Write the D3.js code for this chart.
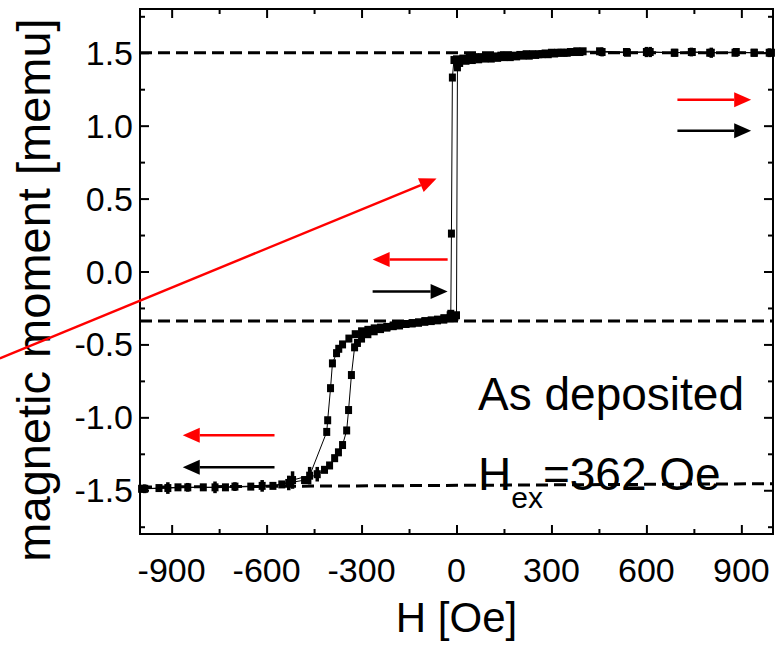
<!DOCTYPE html>
<html>
<head>
<meta charset="utf-8">
<script src="https://cdn.jsdelivr.net/npm/d3@7"></script>
<style>
  body { margin: 0; background: #fff; }
  text { font-family: "Liberation Sans", Arial, sans-serif; fill: #000; }
</style>
</head>
<body>
<div id="grafico"></div>
<script>
// descending branch (H from +1000 to -1000)
const descH = [988, 941, 884, 805, 742, 688, 612, 537, 452,
  400, 380, 360, 340, 320, 300, 280, 260, 240, 220, 200, 180, 160, 140, 120, 100, 80, 60, 40, 20, 0,
  -8, -13, -16, -18,
  -20, -40, -60, -80, -100, -120, -140, -160, -180, -200, -220, -240, -260, -280, -300, -320, -340, -360,
  -372, -379, -392, -398, -407, -410,
  -464, -518, -552, -614, -700, -763, -849, -912, -985];
const descM = [1.50, 1.50, 1.505, 1.50, 1.505, 1.50, 1.505, 1.505, 1.51,
  1.51, 1.51, 1.505, 1.50, 1.50, 1.50, 1.495, 1.49, 1.49, 1.49, 1.485, 1.48, 1.48, 1.48, 1.475, 1.475, 1.47, 1.47, 1.465, 1.46, 1.455,
  1.45, 1.33, 0.26, -0.29,
  -0.30, -0.32, -0.33, -0.335, -0.34, -0.35, -0.355, -0.36, -0.365, -0.37, -0.38, -0.385, -0.39, -0.40, -0.41, -0.43, -0.46, -0.50,
  -0.53, -0.56, -0.63, -0.80, -1.02, -1.10,
  -1.40, -1.43, -1.46, -1.47, -1.475, -1.48, -1.48, -1.485, -1.49];

// ascending branch (H from -1000 to +1000)
const ascH = [-995, -940, -880, -800, -730, -650, -580, -530, -480, -440,
  -417, -401, -385, -373, -360, -347, -341, -332, -322, -313,
  -300, -280, -260, -240, -220, -200, -180, -160, -140, -120, -100, -80, -60, -40, -20,
  -5, 0, 3, 10,
  30, 50, 70, 90, 110, 130, 150, 170, 190, 210, 230, 250, 270, 290, 310, 330, 350, 370, 390,
  460, 540, 600, 690, 745, 800, 880, 940, 995];
const ascM = [-1.49, -1.485, -1.48, -1.48, -1.48, -1.475, -1.47, -1.45, -1.43, -1.39,
  -1.36, -1.33, -1.28, -1.24, -1.19, -1.09, -0.95, -0.71, -0.52, -0.49,
  -0.46, -0.43, -0.41, -0.395, -0.385, -0.375, -0.37, -0.36, -0.355, -0.35, -0.345, -0.34, -0.335, -0.33, -0.32,
  -0.31, -0.30, 1.40, 1.43,
  1.445, 1.45, 1.455, 1.46, 1.46, 1.465, 1.47, 1.47, 1.475, 1.48, 1.48, 1.485, 1.49, 1.49, 1.495, 1.50, 1.50, 1.505, 1.505,
  1.505, 1.50, 1.505, 1.50, 1.505, 1.50, 1.50, 1.50, 1.50];

// error bars (H, M, half length)
const errH = [988, 884, 805, 742, 612, 600, 537, 460, -985, -912, -849, -763, -700, -614, -530, -518, -464, -440];
const errM = [1.50, 1.50, 1.50, 1.505, 1.505, 1.505, 1.505, 1.505, -1.49, -1.485, -1.48, -1.48, -1.475, -1.47, -1.45, -1.43, -1.40, -1.39];
const errE = [0.03, 0.025, 0.035, 0.03, 0.035, 0.035, 0.025, 0.03, 0.03, 0.04, 0.03, 0.04, 0.03, 0.04, 0.05, 0.06, 0.06, 0.05];

// dashed reference levels (left value, right value)
const refLeft = [1.5, -0.34, -1.478];
const refRight = [1.5, -0.34, -1.455];

const xTicks = [-900, -600, -300, 0, 300, 600, 900];
const xMinor = [-750, -450, -150, 150, 450, 750];
const yTicks = [-1.5, -1.0, -0.5, 0.0, 0.5, 1.0, 1.5];
const yMinor = [-1.75, -1.25, -0.75, -0.25, 0.25, 0.75, 1.25, 1.75];

// arrows [H1, M1, H2, M2, colour]
const arrows = [
  [-1443, -0.596, -63, 0.637, "red"],
  [698, 1.178, 931, 1.178, "red"],
  [698, 0.966, 931, 0.966, "black"],
  [-28, 0.082, -265, 0.082, "red"],
  [-265, -0.137, -28, -0.137, "black"],
  [-575, -1.123, -865, -1.123, "red"],
  [-575, -1.342, -865, -1.342, "black"]
];

const width = 777, height = 649;
const pLeft = 140, pRight = 773, pTop = 9, pBottom = 534;

const x = d3.scaleLinear().domain([-1000, 1000]).range([pLeft, pRight]);
const y = d3.scaleLinear().domain([-1.8, 1.8]).range([pBottom, pTop]);

const svg = d3.select('#grafico').append('svg')
  .attr('width', width)
  .attr('height', height);

const desc = descH.map((h, i) => ({h: h, m: descM[i]}));
const asc = ascH.map((h, i) => ({h: h, m: ascM[i]}));

// dashed lines
svg.append('g').selectAll('line')
  .data(refLeft)
  .enter().append('line')
  .attr('x1', x(-1000)).attr('x2', x(1000))
  .attr('y1', d => y(d))
  .attr('y2', (d, i) => y(refRight[i]))
  .attr('stroke', '#000')
  .attr('stroke-width', 3)
  .attr('stroke-dasharray', '12,6');

// connecting lines
const line = d3.line().x(d => x(d.h)).y(d => y(d.m));
[desc, asc].forEach(b => {
  svg.append('path')
    .attr('d', line(b))
    .attr('fill', 'none')
    .attr('stroke', '#000')
    .attr('stroke-width', 1);
});

// error bars
svg.append('g').selectAll('line')
  .data(errH)
  .enter().append('line')
  .attr('x1', d => x(d)).attr('x2', d => x(d))
  .attr('y1', (d, i) => y(errM[i] + errE[i]))
  .attr('y2', (d, i) => y(errM[i] - errE[i]))
  .attr('stroke', '#000')
  .attr('stroke-width', 3.5);

// markers
svg.append('g').selectAll('rect')
  .data(desc.concat(asc))
  .enter().append('rect')
  .attr('x', d => x(d.h) - 3.5)
  .attr('y', d => y(d.m) - 4)
  .attr('width', 7)
  .attr('height', 8)
  .attr('fill', '#000');

// frame
svg.append('rect')
  .attr('x', pLeft).attr('y', pTop)
  .attr('width', pRight - pLeft).attr('height', pBottom - pTop)
  .attr('fill', 'none')
  .attr('stroke', '#000')
  .attr('stroke-width', 2);

// axes (ticks inward)
const axB = svg.append('g').attr('transform', 'translate(0,' + pBottom + ')');
axB.call(d3.axisBottom(x).tickValues(xTicks).tickSize(-9).tickFormat(''));
axB.append('g').call(d3.axisBottom(x).tickValues(xMinor).tickSize(-5).tickFormat(''));
const axT = svg.append('g').attr('transform', 'translate(0,' + pTop + ')');
axT.call(d3.axisTop(x).tickValues(xTicks).tickSize(-9).tickFormat(''));
axT.append('g').call(d3.axisTop(x).tickValues(xMinor).tickSize(-5).tickFormat(''));
const axL = svg.append('g').attr('transform', 'translate(' + pLeft + ',0)');
axL.call(d3.axisLeft(y).tickValues(yTicks).tickSize(-9).tickFormat(''));
axL.append('g').call(d3.axisLeft(y).tickValues(yMinor).tickSize(-5).tickFormat(''));
const axR = svg.append('g').attr('transform', 'translate(' + pRight + ',0)');
axR.call(d3.axisRight(y).tickValues(yTicks).tickSize(-9).tickFormat(''));
axR.append('g').call(d3.axisRight(y).tickValues(yMinor).tickSize(-5).tickFormat(''));
svg.selectAll('.domain').remove();
svg.selectAll('.tick line').attr('stroke', '#000').attr('stroke-width', 2);

// tick labels
svg.append('g').selectAll('text')
  .data(xTicks)
  .enter().append('text')
  .attr('x', d => x(d))
  .attr('y', 582)
  .attr('text-anchor', 'middle')
  .style('font-size', '34px')
  .text(d => d);

svg.append('g').selectAll('text')
  .data(yTicks)
  .enter().append('text')
  .attr('x', pLeft - 7)
  .attr('y', d => y(d) + 12)
  .attr('text-anchor', 'end')
  .style('font-size', '34px')
  .text(d => d.toFixed(1));

// axis titles
svg.append('text')
  .attr('x', (pLeft + pRight) / 2)
  .attr('y', 632)
  .attr('text-anchor', 'middle')
  .style('font-size', '42px')
  .text('H [Oe]');

svg.append('text')
  .attr('transform', 'translate(50,290) rotate(-90)')
  .attr('text-anchor', 'middle')
  .style('font-size', '47px')
  .text('magnetic moment [memu]');

// annotation
svg.append('text')
  .attr('x', 478).attr('y', 410)
  .style('font-size', '46px')
  .text('As deposited');

const hex = svg.append('text')
  .attr('x', 478).attr('y', 490)
  .style('font-size', '46px');
hex.append('tspan').text('H');
hex.append('tspan').attr('dy', 18).style('font-size', '30px').text('ex');
hex.append('tspan').attr('dy', -18).text('=362 Oe');

// arrows
arrows.forEach(a => {
  const x1 = x(a[0]), y1 = y(a[1]), x2 = x(a[2]), y2 = y(a[3]);
  const ang = Math.atan2(y2 - y1, x2 - x1);
  const len = 17, hw = 7.5;
  const bx = x2 - len * Math.cos(ang), by = y2 - len * Math.sin(ang);
  svg.append('line')
    .attr('x1', x1).attr('y1', y1)
    .attr('x2', bx).attr('y2', by)
    .attr('stroke', a[4])
    .attr('stroke-width', 2.5);
  svg.append('path')
    .attr('d', 'M' + x2 + ',' + y2 +
      'L' + (bx + hw * Math.sin(ang)) + ',' + (by - hw * Math.cos(ang)) +
      'L' + (bx - hw * Math.sin(ang)) + ',' + (by + hw * Math.cos(ang)) + 'Z')
    .attr('fill', a[4]);
});
</script>
</body>
</html>
